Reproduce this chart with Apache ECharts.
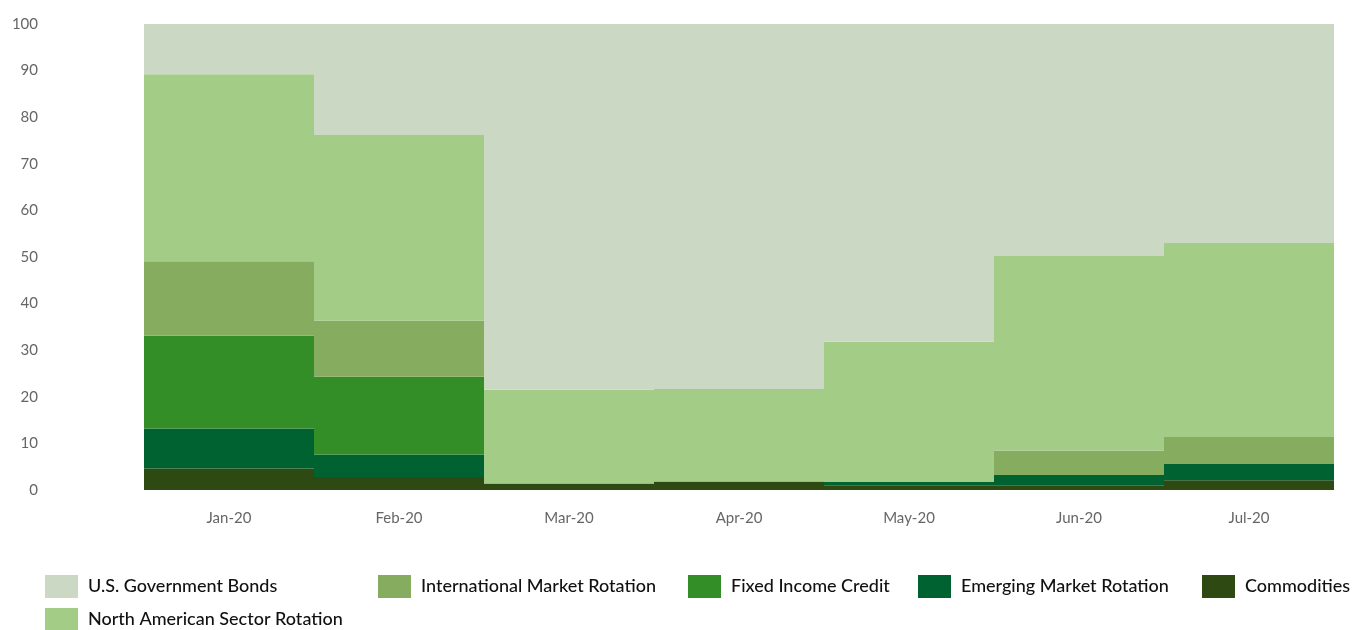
<!DOCTYPE html>
<html>
<head>
<meta charset="utf-8">
<script src="https://cdn.jsdelivr.net/npm/echarts@6/dist/echarts.min.js"></script>
<style>html,body{margin:0;padding:0;background:#fff}#c{width:1353px;height:630px}</style>
</head>
<body>
<div id="c"></div>
<script>
const categories = ['Jan-20','Feb-20','Mar-20','Apr-20','May-20','Jun-20','Jul-20'];
const commodities = [4.6, 2.8, 1.4, 1.8, 0.9, 0.9, 2.1];
const emergingMarket = [8.6, 4.8, 0, 0, 0.8, 2.3, 3.5];
const fixedIncome = [19.9, 16.7, 0, 0, 0, 0, 0];
const internationalMarket = [16.0, 12.0, 0, 0, 0, 5.3, 5.8];
const northAmerican = [40.1, 39.9, 20.1, 19.9, 30.1, 41.7, 41.6];
const usBonds = [10.8, 23.8, 78.5, 78.3, 68.2, 49.8, 47.0];
const yTicks = [0, 100, 10];

const names = {
  bonds: 'U.S. Government Bonds',
  intl: 'International Market Rotation',
  fic: 'Fixed Income Credit',
  em: 'Emerging Market Rotation',
  comm: 'Commodities',
  na: 'North American Sector Rotation'
};
const colors = {
  bonds: '#CBD8C4', na: '#A3CD86', intl: '#86AC60',
  fic: '#348E28', em: '#006230', comm: '#2E4A12'
};

function bar(key, data) {
  return {
    name: names[key], type: 'bar', stack: 'total', data: data,
    barCategoryGap: '0%',
    itemStyle: { color: colors[key] },
    emphasis: { disabled: true }
  };
}

const legendStyle = { fontFamily: 'Lato', fontSize: 18, color: '#111', fontWeight: 500, padding: [0, 0, 0, 5] };
function leg(key, left, top) {
  return {
    data: [names[key]], left: left, top: top, itemWidth: 33, itemHeight: 23,
    icon: 'rect', textStyle: legendStyle, itemGap: 10, selectedMode: false, padding: 0
  };
}

const chart = echarts.init(document.getElementById('c'), null, { renderer: 'canvas' });
chart.setOption({
  animation: false,
  grid: { left: 144, right: 19, top: 24, bottom: 140 },
  legend: [
    leg('bonds', 45, 575),
    leg('intl', 378, 575),
    leg('fic', 688, 575),
    leg('em', 918, 575),
    leg('comm', 1202, 575),
    leg('na', 45, 608)
  ],
  xAxis: {
    type: 'category', data: categories,
    axisLine: { show: false }, axisTick: { show: false },
    axisLabel: { margin: 21, color: '#666', fontFamily: 'Lato', fontSize: 15 }
  },
  yAxis: {
    type: 'value', min: yTicks[0], max: yTicks[1], interval: yTicks[2],
    splitLine: { show: false }, axisLine: { show: false }, axisTick: { show: false },
    axisLabel: { margin: 106, color: '#666', fontFamily: 'Lato', fontSize: 15 }
  },
  series: [
    bar('comm', commodities),
    bar('em', emergingMarket),
    bar('fic', fixedIncome),
    bar('intl', internationalMarket),
    bar('na', northAmerican),
    bar('bonds', usBonds)
  ]
});
</script>
</body>
</html>
